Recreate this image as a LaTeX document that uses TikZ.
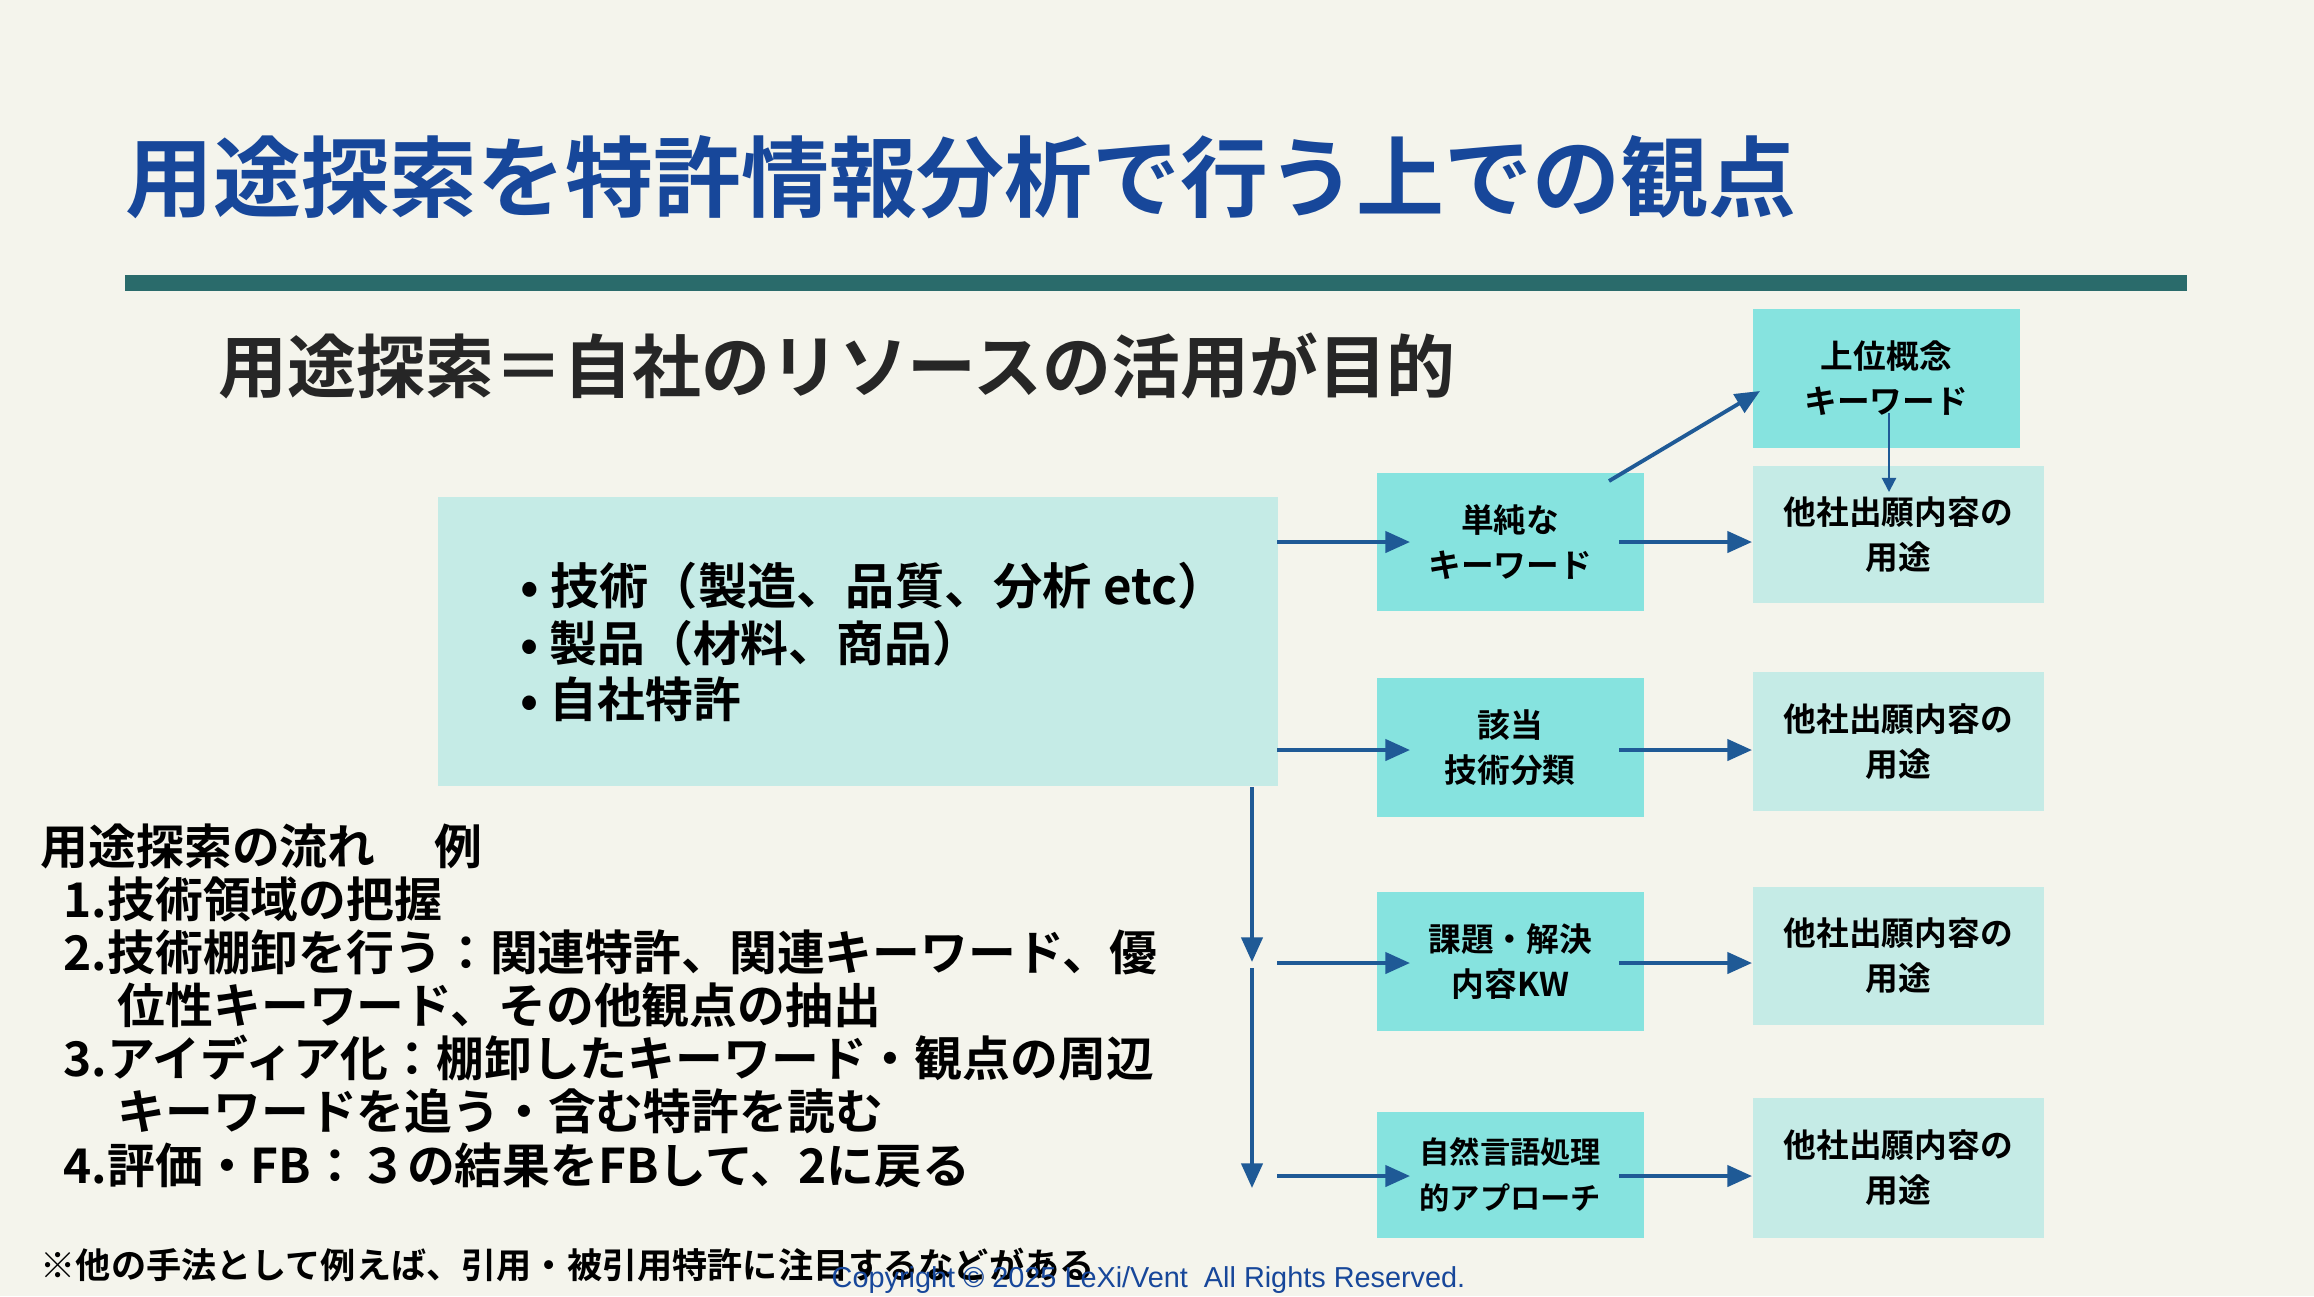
\documentclass[tikz,border=0pt]{standalone}
\usepackage{fontspec}
\setmainfont{Noto Sans CJK JP}[BoldFont={Noto Sans CJK JP Bold}]
\newfontfamily\lib{Liberation Sans}
\usetikzlibrary{arrows.meta}
\definecolor{bg}{HTML}{F4F4EC}
\definecolor{ttl}{HTML}{17479A}
\definecolor{rule}{HTML}{2A6B6B}
\definecolor{pale}{HTML}{C5EBE6}
\definecolor{mid}{HTML}{86E3DF}
\definecolor{arr}{HTML}{1F5A96}
\begin{document}
\begin{tikzpicture}[x=0.01cm,y=-0.01cm,
  box/.style={anchor=north west,inner sep=0,align=center,font=\bfseries\fontsize{9.3}{12.8}\selectfont},
  midb/.style={box,fill=mid},
  palb/.style={box,fill=pale},
  ar/.style={draw=arr,line width=1.1pt,-{Triangle[length=7pt,width=6pt]}},
  txt/.style={anchor=west,inner sep=0,font=\bfseries\fontsize{13.6}{16}\selectfont}]
\fill[bg] (0,0) rectangle (2314,1296);
\useasboundingbox (0,0) rectangle (2314,1296);
\node[anchor=west,inner sep=0,text=ttl,font=\bfseries\fontsize{25}{28}\selectfont] (title) at (125,177) {用途探索を特許情報分析で行う上での観点};
\fill[rule] (125,275) rectangle (2187,291);
\node[anchor=west,inner sep=0,font=\bfseries\fontsize{19.6}{22}\selectfont,text=black!85] (sub) at (218,366) {用途探索＝自社のリソースの活用が目的};
% big box
\node[box,fill=pale,minimum width=8.4cm,minimum height=2.89cm] (big) at (437,496) {};
\node[txt,align=left] (bl) at (520,642) {\fontsize{14}{15.3}\selectfont
•\ 技術（製造、品質、分析 etc）\\•\ 製品（材料、商品）\\•\ 自社特許};
% middle
\node[midb,minimum width=2.67cm,minimum height=1.38cm] (m1) at (1376,472) {単純な\\キーワード};
\node[midb,minimum width=2.67cm,minimum height=1.39cm] (m2) at (1376,677) {該当\\技術分類};
\node[midb,minimum width=2.67cm,minimum height=1.39cm] (m3) at (1376,891) {課題・解決\\内容KW};
\node[midb,minimum width=2.67cm,minimum height=1.26cm,font=\bfseries\fontsize{8.6}{12.8}\selectfont] (m4) at (1376,1111) {自然言語処理\\的アプローチ};
% right
\node[midb,minimum width=2.67cm,minimum height=1.39cm] (up) at (1752,308) {上位概念\\キーワード};
\node[palb,minimum width=2.91cm,minimum height=1.37cm] (r1) at (1752,465) {他社出願内容の\\用途};
\node[palb,minimum width=2.91cm,minimum height=1.39cm] (r2) at (1752,671) {他社出願内容の\\用途};
\node[palb,minimum width=2.91cm,minimum height=1.38cm] (r3) at (1752,886) {他社出願内容の\\用途};
\node[palb,minimum width=2.91cm,minimum height=1.40cm] (r4) at (1752,1097) {他社出願内容の\\用途};
% arrows big -> middle
\coordinate (a1) at (1277,542); \coordinate (a1e) at (1410,542);
\coordinate (a2) at (1277,750); \coordinate (a2e) at (1410,750);
\coordinate (a3) at (1277,963); \coordinate (a3e) at (1410,963);
\coordinate (a4) at (1277,1176); \coordinate (a4e) at (1410,1176);
\draw[ar] (a1) -- (a1e);
\draw[ar] (a2) -- (a2e);
\draw[ar] (a3) -- (a3e);
\draw[ar] (a4) -- (a4e);
\coordinate (v0) at (1252,787); \coordinate (v1) at (1252,962); \coordinate (v1b) at (1252,968); \coordinate (v2) at (1252,1188);
\draw[ar] (v0) -- (v1);
\draw[ar] (v1b) -- (v2);
% middle -> right
\coordinate (b1) at (1619,542); \coordinate (b1e) at (1752,542);
\coordinate (b2) at (1619,750); \coordinate (b2e) at (1752,750);
\coordinate (b3) at (1619,963); \coordinate (b3e) at (1752,963);
\coordinate (b4) at (1619,1176); \coordinate (b4e) at (1752,1176);
\draw[ar] (b1) -- (b1e);
\draw[ar] (b2) -- (b2e);
\draw[ar] (b3) -- (b3e);
\draw[ar] (b4) -- (b4e);
\coordinate (d0) at (1609,481); \coordinate (d1) at (1760,391);
\draw[ar] (d0) -- (d1);
\coordinate (u0) at (1889,413); \coordinate (u1) at (1889,492);
\draw[draw=arr,line width=0.6pt,-{Triangle[length=4pt,width=4pt]}] (u0) -- (u1);
% flow text
\node[txt] (f0) at (40,846) {用途探索の流れ　 例};
\node[txt] (f1) at (63,899) {1.技術領域の把握};
\node[txt] (f2) at (63,952) {2.技術棚卸を行う：関連特許、関連キーワード、優};
\node[txt] (f2b) at (117,1005) {位性キーワード、その他観点の抽出};
\node[txt] (f3) at (63,1058) {3.アイディア化：棚卸したキーワード・観点の周辺};
\node[txt] (f3b) at (117,1111) {キーワードを追う・含む特許を読む};
\node[txt] (f4) at (63,1165) {4.評価・FB：３の結果をFBして、2に戻る};
\node[anchor=west,inner sep=0,font=\bfseries\fontsize{10}{11}\selectfont] (fn) at (40,1265) {※他の手法として例えば、引用・被引用特許に注目するなどがある};
\node[anchor=west,inner sep=0,text=ttl,font=\lib\fontsize{8.2}{10}\selectfont] (cp) at (831,1280) {Copyright © 2025 LeXi/Vent\ \ All Rights Reserved.};
\end{tikzpicture}
\end{document}
